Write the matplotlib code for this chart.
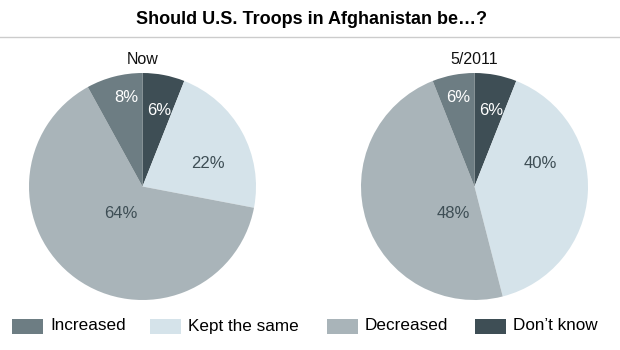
import matplotlib
matplotlib.use("Agg")
import matplotlib.pyplot as plt
from matplotlib.patches import Rectangle
from matplotlib.lines import Line2D

plt.rcParams['font.family'] = ['Liberation Sans', 'DejaVu Sans']

# survey answers, in clockwise order from 12 o'clock
answers = ["Don't know", "Kept the same", "Decreased", "Increased"]
now_pct = [6, 22, 64, 8]
may2011_pct = [6, 40, 48, 6]
panel_titles = ["Now", "5/2011"]

# legend order
legend_order = ["Increased", "Kept the same", "Decreased", "Don\u2019t know"]

colors = {"Don't know": "#3e4e55", "Kept the same": "#d5e3ea",
          "Decreased": "#a9b4b9", "Increased": "#6d7d83"}
label_colors = {"Don't know": "white", "Kept the same": "#3e4e55",
                "Decreased": "#3e4e55", "Increased": "white"}
# where each percentage sits, in units of the pie radius
label_spots = {"Don't know": (0.15, 0.67), "Kept the same": (0.58, 0.20),
               "Decreased": (-0.19, -0.235), "Increased": (-0.145, 0.785)}

fig = plt.figure(figsize=(6.2, 3.5), dpi=100)
W, H = 620, 350

fig.text(312 / W, 1 - 19 / H, "Should U.S. Troops in Afghanistan be\u2026?",
         ha="center", va="center", fontsize=13, fontweight="bold")
fig.add_artist(Line2D([0, 1], [1 - 37 / H, 1 - 37 / H], color="#cccccc", lw=1))

# pie boxes in pixels: left, top, size
boxes = [(29, 73, 227), (361, 73, 227)]

for (px, py, size), values, name in zip(boxes, [now_pct, may2011_pct], panel_titles):
    ax = fig.add_axes([px / W, 1 - (py + size) / H, size / W, size / H])
    ax.pie(values, colors=[colors[a] for a in answers], startangle=90,
           counterclock=False, radius=1,
           wedgeprops=dict(linewidth=0))
    for a, v in zip(answers, values):
        x, y = label_spots[a]
        ax.text(x, y, f"{v}%", ha="center", va="center", fontsize=12,
                color=label_colors[a])
    ax.set_xlim(-1, 1)
    ax.set_ylim(-1, 1)
    ax.set_aspect("equal")
    ax.axis("off")
    fig.text((px + size / 2) / W, 1 - 59 / H, name, ha="center", va="center",
             fontsize=11.5, color="#111111")

# legend along the bottom
swatch_x = [12, 150, 327, 475]
for sx, a in zip(swatch_x, legend_order):
    key = "Don't know" if a.startswith("Don") else a
    fig.add_artist(Rectangle((sx / W, 1 - 334 / H), 31 / W, 15 / H,
                             transform=fig.transFigure, facecolor=colors[key],
                             edgecolor="none"))
    fig.text((sx + 38) / W, 1 - 326 / H, a, ha="left", va="center",
             fontsize=12.3, color="black")

fig.savefig("out.png", dpi=100)
